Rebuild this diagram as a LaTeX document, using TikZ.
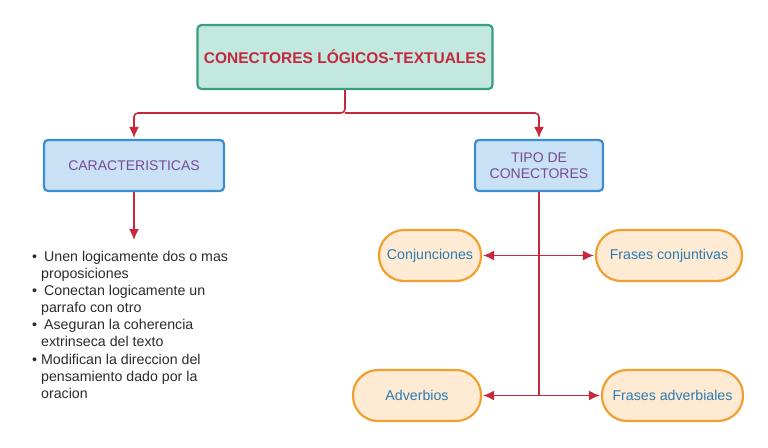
\documentclass[tikz,border=0pt]{standalone}
\usepackage{fontspec}
\setmainfont{Liberation Sans}
\usetikzlibrary{arrows.meta}
\definecolor{tealfill}{HTML}{C2E8DF}
\definecolor{tealline}{HTML}{3A9E80}
\definecolor{titlered}{HTML}{C4283E}
\definecolor{bluefill}{HTML}{C8E1F5}
\definecolor{blueline}{HTML}{3A8DD0}
\definecolor{purpletext}{HTML}{7A4A92}
\definecolor{orfill}{HTML}{FFEBD3}
\definecolor{orline}{HTML}{F0A030}
\definecolor{bluetext}{HTML}{2A7BB3}
\definecolor{arrred}{HTML}{C8283C}
\definecolor{listtext}{HTML}{2B2B2B}
\tikzset{
  titlebox/.style={draw=tealline, fill=tealfill, line width=2.2pt, rounded corners=4pt,
    minimum width=295pt, minimum height=64pt, font=\fontsize{15.5}{18}\selectfont\bfseries, text=titlered},
  bluebox/.style={draw=blueline, fill=bluefill, line width=2.2pt, rounded corners=4pt,
    minimum height=51pt, font=\fontsize{14}{16.5}\selectfont, text=purpletext, align=center},
  orbox/.style={draw=orline, fill=orfill, line width=2.2pt, rounded corners=25pt,
    minimum height=51pt, font=\fontsize{14.2}{17}\selectfont, text=bluetext},
  arr/.style={draw=arrred, line width=1.6pt, rounded corners=4pt, shorten >=1pt, -{Latex[length=11pt,width=10pt]}},
  ln/.style={draw=arrred, line width=1.6pt},
}
\begin{document}
\begin{tikzpicture}[x=1pt,y=-1pt]
\useasboundingbox (0,0) rectangle (768,447);
\node[titlebox] (top) at (345,57) {CONECTORES LÓGICOS-TEXTUALES};
\node[bluebox, minimum width=180pt] (car) at (134,165.5) {CARACTERISTICAS};
\node[bluebox, minimum width=128pt] (tipo) at (539,165.5) {TIPO DE\\CONECTORES};
\node[orbox, minimum width=102pt] (conj) at (430,255.5) {Conjunciones};
\node[orbox, minimum width=146pt] (fconj) at (669,255.5) {Frases conjuntivas};
\node[orbox, minimum width=128pt] (adv) at (417,395.5) {Adverbios};
\node[orbox, minimum width=141pt] (fadv) at (672.5,395.5) {Frases adverbiales};
\node[anchor=north west, align=left, inner sep=0pt, text=listtext,
  font=\fontsize{14.2}{17.1}\selectfont] (lst) at (32,251)
  {\textbullet\hspace{7pt}Unen logicamente dos o mas\\
   \hphantom{\textbullet}\hspace{4pt}proposiciones\\
   \textbullet\hspace{7pt}Conectan logicamente un\\
   \hphantom{\textbullet}\hspace{4pt}parrafo con otro\\
   \textbullet\hspace{7pt}Aseguran la coherencia\\
   \hphantom{\textbullet}\hspace{4pt}extrinseca del texto\\
   \textbullet\hspace{4pt}Modifican la direccion del\\
   \hphantom{\textbullet}\hspace{4pt}pensamiento dado por la\\
   \hphantom{\textbullet}\hspace{4pt}oracion};
\coordinate (j) at (345,113);
\coordinate (carend) at (134,241);
\coordinate (j1) at (539,255.5);
\coordinate (j2) at (539,395.5);
\draw[arr] (top.south) -- (j) -| (car.north);
\draw[arr] (j) -| (tipo.north);
\draw[arr] (car.south) -- (carend);
\draw[ln] (tipo.south) -- (j2);
\draw[arr] (j1) -- (conj.east);
\draw[arr] (j1) -- (fconj.west);
\draw[arr] (j2) -- (adv.east);
\draw[arr] (j2) -- (fadv.west);
\end{tikzpicture}
\end{document}
